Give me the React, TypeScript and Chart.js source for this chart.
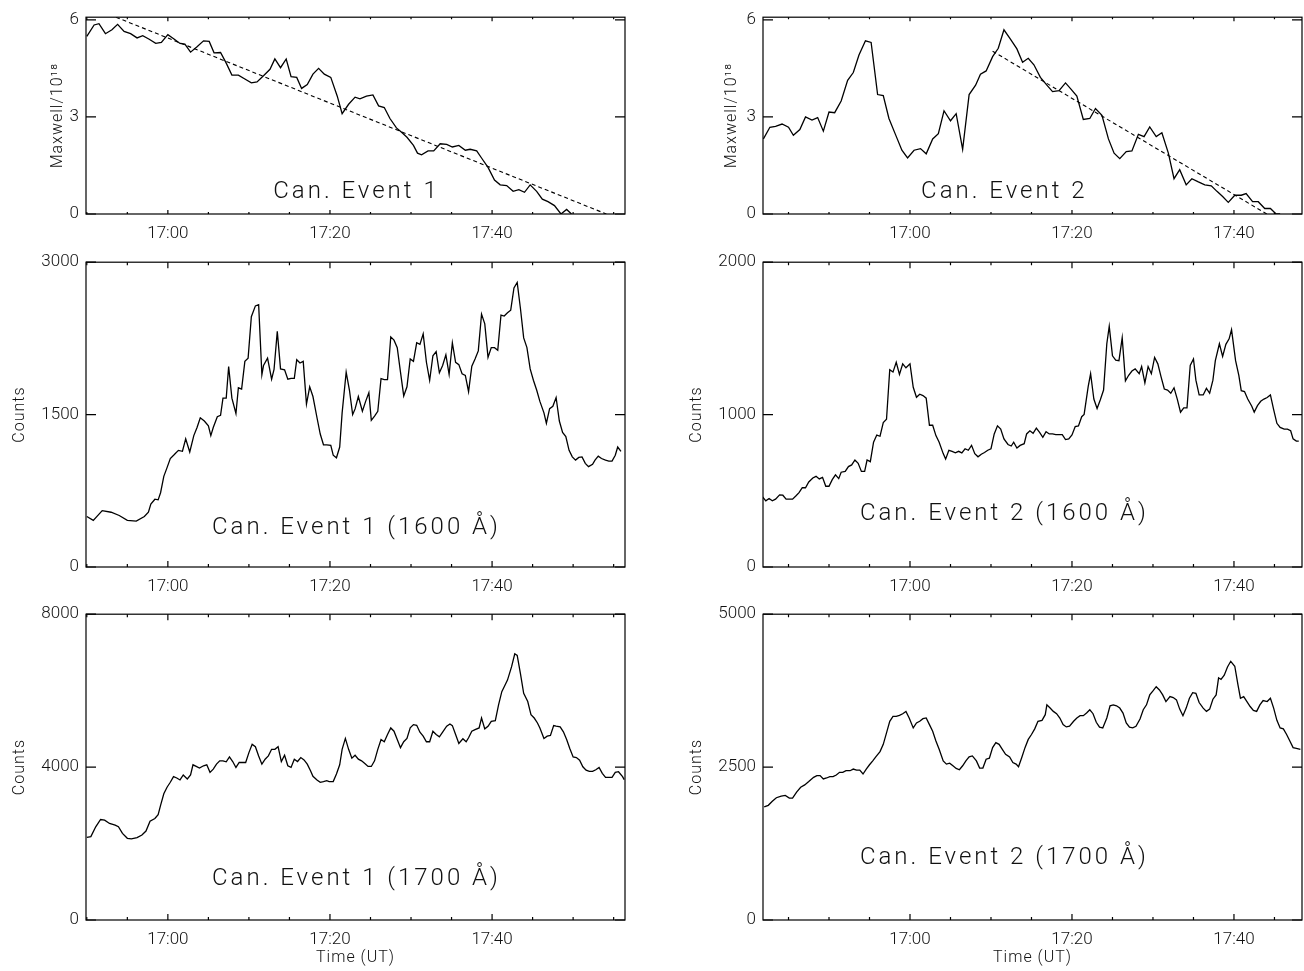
import React, { useEffect, useRef } from 'react';
import { Chart, registerables } from 'chart.js';

Chart.register(...registerables);

// ---------- DATA (time in minutes relative to 17:00 UT) ----------
const X_LABEL_VALUES = [0, 20, 40];
const X_LABELS = ['17:00', '17:20', '17:40'];
const LEFT_X_TICKS = [-10, -5, 0, 5, 10, 15, 20, 25, 30, 35, 40, 45, 50, 55];
const RIGHT_X_TICKS = [-15, -10, -5, 0, 5, 10, 15, 20, 25, 30, 35, 40, 45];

// Event 1 magnetic flux (Maxwell / 1e18)
const P1_TIME = [-10.0,-9.1,-8.5,-7.7,-6.9,-6.2,-5.4,-4.6,-3.8,-3.1,-2.3,-1.5,-0.8,0.0,0.8,1.5,2.1,2.8,3.6,4.4,5.1,5.7,6.5,7.2,7.9,8.7,9.5,10.3,11.0,11.8,12.6,13.2,13.9,14.6,15.2,15.9,16.5,17.2,17.9,18.6,19.3,20.1,20.9,21.5,22.3,23.1,23.7,24.5,25.3,26.0,26.7,27.4,28.2,28.8,29.5,30.3,30.8,31.3,32.1,32.8,33.6,34.4,35.1,35.9,36.7,37.3,38.1,38.7,39.5,40.3,41.0,41.8,42.6,43.3,44.0,44.7,45.5,46.2,46.9,47.7,48.5,49.2,49.8];
const P1_FLUX = [5.49,5.84,5.88,5.57,5.69,5.86,5.64,5.57,5.44,5.51,5.40,5.27,5.30,5.54,5.40,5.27,5.25,5.00,5.17,5.35,5.33,4.98,4.99,4.66,4.29,4.29,4.17,4.05,4.08,4.27,4.47,4.79,4.52,4.79,4.24,4.22,3.88,4.00,4.32,4.50,4.32,4.22,3.64,3.10,3.39,3.61,3.56,3.64,3.68,3.34,3.29,2.95,2.66,2.53,2.37,2.12,1.88,1.83,1.95,1.95,2.17,2.15,2.07,2.12,1.97,2.00,1.95,1.73,1.44,1.05,0.90,0.88,0.70,0.75,0.67,0.90,0.70,0.46,0.38,0.26,0.0,0.14,0.0];
const FIT1_TIME = [-6.4, 54.1];
const FIT1_FLUX = [6.08, 0];

// Event 2 magnetic flux (Maxwell / 1e18)
const P2_TIME = [-18.1,-17.3,-16.6,-15.8,-15.0,-14.4,-13.6,-12.9,-12.1,-11.4,-10.7,-10.0,-9.3,-8.5,-7.7,-7.0,-6.3,-5.5,-4.8,-4.0,-3.3,-2.6,-1.8,-1.0,-0.3,0.5,1.3,2.0,2.8,3.5,4.2,5.0,5.7,6.5,7.3,8.1,8.7,9.4,10.2,10.9,11.6,12.4,13.2,13.9,14.6,15.3,16.1,16.9,17.6,18.4,19.2,19.9,20.6,21.4,22.2,22.9,23.7,24.5,25.2,25.9,26.7,27.4,28.2,28.9,29.6,30.4,31.1,31.9,32.6,33.3,34.1,34.8,35.6,36.4,37.2,37.9,38.6,39.3,40.1,40.9,41.5,42.3,43.0,43.8,44.5,45.2,45.7];
const P2_FLUX = [2.32,2.68,2.71,2.78,2.68,2.43,2.61,3.00,2.90,2.98,2.56,3.15,3.13,3.49,4.13,4.37,4.91,5.35,5.30,3.69,3.66,2.95,2.46,1.97,1.73,1.97,2.02,1.86,2.32,2.48,3.19,2.88,3.10,2.00,3.69,3.98,4.32,4.42,4.86,5.12,5.69,5.40,5.10,4.69,4.81,4.61,4.22,3.98,3.78,3.81,4.05,3.85,3.64,2.92,2.95,3.26,3.05,2.32,1.88,1.71,1.93,1.95,2.46,2.39,2.69,2.39,2.51,1.88,1.09,1.37,0.90,1.09,0.99,0.90,0.87,0.70,0.54,0.36,0.58,0.58,0.63,0.38,0.38,0.17,0.17,0.0,0.0];
const FIT2_TIME = [10.2, 44.05];
const FIT2_FLUX = [5.03, 0];

// Event 1, 1600 A counts
const P3_TIME = [-10.0,-9.2,-8.1,-7.0,-6.0,-5.0,-3.9,-2.9,-2.4,-2.1,-1.6,-1.2,-0.9,-0.5,-0.1,0.3,0.8,1.3,1.8,2.2,2.7,3.2,3.6,4.0,4.5,5.0,5.3,5.6,6.1,6.5,6.8,7.2,7.5,7.9,8.4,8.7,9.1,9.5,9.9,10.3,10.8,11.2,11.6,11.8,12.3,12.8,13.1,13.5,13.9,14.4,14.8,15.2,15.6,15.9,16.3,16.7,17.1,17.5,17.9,18.4,18.8,19.2,19.6,20.1,20.4,20.8,21.2,21.5,22.0,22.4,22.8,23.1,23.5,24.0,24.4,24.8,25.1,25.5,25.9,26.3,26.7,27.1,27.5,27.9,28.3,28.7,29.1,29.5,29.9,30.3,30.7,31.1,31.5,31.9,32.3,32.7,33.1,33.5,33.9,34.3,34.7,35.1,35.5,35.9,36.3,36.7,37.1,37.5,37.9,38.3,38.7,39.1,39.5,39.9,40.3,40.7,41.1,41.5,41.9,42.3,42.7,43.1,43.5,43.9,44.3,44.7,45.1,45.5,45.9,46.4,46.7,47.1,47.5,47.9,48.3,48.7,49.1,49.5,49.9,50.3,50.7,51.1,51.5,51.9,52.4,52.7,53.1,53.5,54.0,54.4,54.8,55.2,55.5,55.9];
const P3_COUNTS = [497,459,555,539,507,459,452,497,539,619,667,661,731,892,978,1068,1107,1148,1139,1261,1132,1293,1373,1469,1437,1389,1293,1373,1479,1492,1662,1662,1973,1662,1511,1764,1751,2024,2056,2464,2570,2582,1893,1983,2056,1848,1944,2319,1950,1941,1848,1857,1857,2040,2008,2024,1604,1774,1678,1469,1309,1203,1203,1197,1100,1075,1181,1517,1918,1742,1501,1556,1678,1533,1630,1716,1444,1485,1533,1854,1845,1845,2265,2233,2159,1918,1684,1774,2047,2024,2207,2191,2294,2015,1838,2079,2120,1912,1983,2088,1896,2207,2015,1992,1902,1886,1726,1976,2047,2127,2489,2393,2063,2159,2159,2133,2480,2470,2502,2528,2746,2801,2544,2255,2159,1950,1838,1742,1630,1517,1415,1559,1582,1668,1437,1325,1283,1148,1084,1052,1078,1084,1020,988,1011,1052,1091,1068,1052,1043,1043,1100,1181,1139];

// Event 2, 1600 A counts
const P4_TIME = [-18.2,-17.8,-17.4,-17.0,-16.6,-16.1,-15.7,-15.3,-14.9,-14.5,-14.1,-13.7,-13.3,-12.9,-12.5,-12.0,-11.6,-11.2,-10.8,-10.4,-10.0,-9.6,-9.2,-8.8,-8.5,-8.0,-7.6,-7.2,-6.8,-6.4,-6.0,-5.6,-5.3,-4.9,-4.5,-4.1,-3.7,-3.3,-2.9,-2.5,-2.1,-1.7,-1.3,-0.9,-0.5,0.0,0.4,0.8,1.2,1.6,2.0,2.4,2.8,3.2,3.6,4.1,4.4,4.8,5.2,5.6,6.0,6.4,6.8,7.2,7.6,8.0,8.4,8.8,9.2,9.6,10.0,10.4,10.8,11.2,11.6,12.1,12.5,12.8,13.2,13.6,14.1,14.4,14.8,15.2,15.6,16.0,16.4,16.8,17.2,17.6,18.0,18.4,18.8,19.2,19.6,20.0,20.4,20.8,21.2,21.5,22.0,22.3,22.7,23.1,23.5,23.9,24.3,24.6,25.0,25.4,25.8,26.2,26.6,27.0,27.4,27.8,28.3,28.6,29.0,29.4,29.8,30.2,30.6,31.0,31.4,31.8,32.2,32.6,33.0,33.4,33.8,34.2,34.6,35.0,35.3,35.7,36.2,36.6,37.0,37.4,37.7,38.2,38.6,39.0,39.4,39.7,40.2,40.6,40.9,41.3,41.7,42.2,42.5,42.9,43.3,43.7,44.1,44.5,44.9,45.3,45.7,46.2,46.6,47.0,47.3,47.7,48.0];
const P4_COUNTS = [460,434,449,434,445,473,471,445,445,445,466,488,520,520,558,584,595,578,588,530,530,573,605,580,622,627,659,670,702,680,627,627,702,691,819,866,858,948,969,1294,1279,1343,1264,1333,1307,1333,1179,1114,1134,1125,1108,930,930,862,819,744,708,766,759,749,759,749,776,766,798,744,723,740,751,766,776,873,926,905,841,804,794,819,781,798,809,873,894,877,911,883,851,888,873,873,868,868,868,836,841,866,922,926,986,1001,1183,1268,1102,1040,1097,1161,1465,1579,1386,1358,1354,1504,1221,1258,1286,1300,1268,1315,1208,1315,1268,1375,1333,1247,1168,1161,1140,1176,1102,1016,1044,1044,1322,1365,1226,1129,1129,1172,1140,1226,1354,1465,1382,1461,1497,1557,1354,1258,1157,1151,1102,1055,1016,1059,1087,1102,1112,1129,1033,943,916,905,905,894,841,826,826];

// Event 1, 1700 A counts
const P5_TIME = [-10.0,-9.5,-8.9,-8.3,-7.8,-7.2,-6.5,-6.1,-5.6,-5.0,-4.5,-3.8,-3.2,-2.7,-2.2,-1.6,-1.2,-0.9,-0.5,-0.1,0.3,0.7,1.1,1.5,1.9,2.4,2.8,3.1,3.5,3.9,4.4,4.8,5.2,5.6,6.0,6.4,6.8,7.2,7.6,8.0,8.4,8.8,9.2,9.6,10.0,10.4,10.8,11.2,11.6,12.0,12.4,12.8,13.2,13.6,14.0,14.4,14.8,15.2,15.6,16.0,16.4,16.8,17.2,17.6,17.9,18.4,18.8,19.2,19.6,19.9,20.4,20.8,21.2,21.5,21.9,22.3,22.7,23.1,23.5,23.9,24.3,24.7,25.1,25.5,25.9,26.3,26.7,27.1,27.5,27.9,28.3,28.7,29.1,29.5,29.9,30.3,30.7,31.1,31.5,31.9,32.3,32.7,33.1,33.5,33.9,34.4,34.8,35.1,35.5,35.9,36.4,36.8,37.1,37.5,37.9,38.4,38.7,39.1,39.5,39.9,40.4,40.8,41.2,41.5,41.9,42.4,42.8,43.1,43.5,43.9,44.4,44.8,45.2,45.6,45.9,46.4,46.8,47.2,47.6,47.9,48.4,48.8,49.2,49.6,50.0,50.4,50.8,51.2,51.6,52.0,52.4,52.8,53.2,53.6,54.0,54.4,54.8,55.2,55.6,56.1,56.3];
const P5_COUNTS = [2164,2181,2439,2629,2612,2526,2483,2439,2267,2138,2121,2155,2224,2327,2586,2655,2758,3000,3301,3474,3603,3750,3715,3664,3793,3689,3793,4060,4017,3974,4034,4060,3862,3948,4077,4164,4164,4138,4267,4146,3991,4120,4120,4120,4379,4595,4534,4293,4077,4207,4293,4465,4465,4534,4146,4310,4034,3991,4207,4146,4250,4189,4077,3905,3758,3664,3603,3620,3646,3620,3620,3819,4060,4465,4750,4465,4232,4310,4207,4164,4095,4017,4017,4164,4465,4724,4663,4853,5025,4939,4724,4508,4663,4750,5025,5112,5094,4913,4810,4663,4663,4939,4853,4793,4913,5069,5129,5086,4853,4620,4741,4663,4767,4939,4982,5025,5284,5000,5069,5198,5215,5629,5974,6103,6276,6620,6965,6922,6448,5931,5715,5370,5284,5155,5025,4750,4810,4827,5086,5069,5051,4922,4724,4482,4267,4250,4181,4008,3922,3888,3888,3931,3991,3836,3732,3732,3732,3862,3879,3750,3672];

// Event 2, 1700 A counts
const P6_TIME = [-18.0,-17.5,-17.0,-16.5,-15.9,-15.4,-14.9,-14.5,-14.0,-13.5,-13.0,-12.5,-11.9,-11.5,-11.1,-10.7,-10.3,-9.9,-9.5,-9.1,-8.7,-8.3,-7.9,-7.4,-7.0,-6.6,-6.2,-5.8,-5.4,-5.0,-4.6,-4.2,-3.7,-3.3,-2.9,-2.5,-2.1,-1.7,-1.3,-0.9,-0.5,-0.1,0.4,0.8,1.2,1.6,2.0,2.4,2.8,3.2,3.6,4.1,4.5,4.9,5.3,5.7,6.1,6.5,6.9,7.3,7.7,8.2,8.6,9.0,9.4,9.8,10.2,10.6,11.0,11.4,11.8,12.3,12.7,13.1,13.4,13.8,14.2,14.6,15.0,15.4,15.8,16.3,16.7,16.9,17.3,17.7,18.1,18.5,18.9,19.3,19.7,20.2,20.6,21.0,21.4,21.8,22.2,22.6,23.0,23.4,23.8,24.3,24.7,25.1,25.5,25.9,26.3,26.7,27.1,27.5,27.9,28.4,28.8,29.2,29.6,30.0,30.4,30.8,31.2,31.6,32.1,32.5,32.9,33.3,33.7,34.1,34.5,34.9,35.3,35.7,36.2,36.6,37.0,37.4,37.8,38.1,38.4,38.8,39.2,39.6,40.1,40.5,40.8,41.2,41.6,42.0,42.4,42.8,43.2,43.6,44.1,44.5,44.9,45.3,45.7,46.1,46.5,46.9,47.3,47.7,48.2];
const P6_COUNTS = [1848,1875,1940,1999,2026,2037,1994,1994,2091,2171,2209,2263,2333,2360,2360,2306,2322,2344,2344,2371,2414,2414,2441,2441,2468,2452,2452,2387,2468,2538,2602,2672,2753,2872,3060,3249,3330,3330,3346,3373,3411,3303,3141,3222,3249,3292,3303,3195,3087,2926,2791,2602,2549,2565,2522,2479,2457,2522,2602,2667,2683,2602,2484,2484,2629,2646,2818,2899,2872,2791,2710,2667,2575,2549,2505,2656,2818,2953,3033,3125,3249,3265,3357,3518,3465,3411,3373,3303,3195,3157,3168,3249,3303,3341,3341,3384,3438,3373,3233,3152,3141,3303,3502,3518,3502,3465,3384,3222,3152,3141,3168,3287,3438,3518,3680,3745,3815,3761,3680,3572,3653,3637,3599,3448,3341,3465,3626,3718,3707,3556,3465,3411,3448,3610,3680,3960,3933,4003,4138,4230,4149,3842,3626,3653,3572,3491,3427,3411,3518,3588,3572,3626,3465,3265,3141,3125,3033,2926,2818,2807,2791];

// ---------- LAYOUT ----------
const FONT = 'Roboto';
const TEXT = '#111';

type Cfg = {
  key: string;
  left: number; top: number; w: number; h: number;
  aL: number; aT: number; aR: number; aB: number;
  xMin: number; xMax: number; xTicks: number[];
  yMin: number; yMax: number; yTicks: number[];
  time: number[]; vals: number[];
  fitT?: number[]; fitV?: number[];
  label: string; fx: number; fy: number;
  yTitle: string; yTitleDx: number;
  xTitle?: string;
  majorX: number;
};

const COL_L = { left: 0, w: 650, aL: 86, aR: 625 };
const COL_R = { left: 650, w: 654, aL: 113, aR: 652 };
const ROW1 = { top: 0, h: 245, aT: 7, aB: 214 };
const ROW2 = { top: 245, h: 352, aT: 12, aB: 322 };
const ROW3 = { top: 597, h: 374, aT: 12, aB: 323 };

const LEFT_RANGE = { xMin: -10.1, xMax: 56.4, xTicks: LEFT_X_TICKS };
const RIGHT_RANGE = { xMin: -18.15, xMax: 48.4, xTicks: RIGHT_X_TICKS };

const PANELS: Cfg[] = [
  { key: 'p1', ...COL_L, ...ROW1, ...LEFT_RANGE, yMin: 0, yMax: 6.08, yTicks: [0, 3, 6],
    time: P1_TIME, vals: P1_FLUX, fitT: FIT1_TIME, fitV: FIT1_FLUX,
    label: 'Can. Event 1', fx: 0.499, fy: 0.89, yTitle: 'Maxwell/10¹⁸', yTitleDx: -28, majorX: 4 },
  { key: 'p2', ...COL_R, ...ROW1, ...RIGHT_RANGE, yMin: 0, yMax: 6.08, yTicks: [0, 3, 6],
    time: P2_TIME, vals: P2_FLUX, fitT: FIT2_TIME, fitV: FIT2_FLUX,
    label: 'Can. Event 2', fx: 0.445, fy: 0.89, yTitle: 'Maxwell/10¹⁸', yTitleDx: -31, majorX: 4 },
  { key: 'p3', ...COL_L, ...ROW2, ...LEFT_RANGE, yMin: 0, yMax: 3000, yTicks: [0, 1500, 3000],
    time: P3_TIME, vals: P3_COUNTS,
    label: 'Can. Event 1 (1600 Å)', fx: 0.499, fy: 0.871, yTitle: 'Counts', yTitleDx: -66, majorX: 6 },
  { key: 'p4', ...COL_R, ...ROW2, ...RIGHT_RANGE, yMin: 0, yMax: 2000, yTicks: [0, 1000, 2000],
    time: P4_TIME, vals: P4_COUNTS,
    label: 'Can. Event 2 (1600 Å)', fx: 0.445, fy: 0.826, yTitle: 'Counts', yTitleDx: -66, majorX: 6 },
  { key: 'p5', ...COL_L, ...ROW3, ...LEFT_RANGE, yMin: 0, yMax: 8000, yTicks: [0, 4000, 8000],
    time: P5_TIME, vals: P5_COUNTS,
    label: 'Can. Event 1 (1700 Å)', fx: 0.499, fy: 0.865, yTitle: 'Counts', yTitleDx: -66, xTitle: 'Time (UT)', majorX: 6 },
  { key: 'p6', ...COL_R, ...ROW3, ...RIGHT_RANGE, yMin: 0, yMax: 5000, yTicks: [0, 2500, 5000],
    time: P6_TIME, vals: P6_COUNTS,
    label: 'Can. Event 2 (1700 Å)', fx: 0.445, fy: 0.797, yTitle: 'Counts', yTitleDx: -66, xTitle: 'Time (UT)', majorX: 6 },
];

function decorPlugin(cfg: Cfg) {
  return {
    id: 'decor_' + cfg.key,
    afterDatasetsDraw(chart: any) {
      const { ctx, chartArea: a, scales } = chart;
      const xs = scales.x;
      const ys = scales.y;
      ctx.save();
      ctx.strokeStyle = '#000';
      ctx.lineWidth = 1.2;
      ctx.strokeRect(a.left, a.top, a.right - a.left, a.bottom - a.top);
      ctx.beginPath();
      for (const v of cfg.xTicks) {
        const px = xs.getPixelForValue(v);
        const len = X_LABEL_VALUES.includes(v) ? cfg.majorX : cfg.majorX / 2;
        ctx.moveTo(px, a.bottom);
        ctx.lineTo(px, a.bottom - len);
        ctx.moveTo(px, a.top);
        ctx.lineTo(px, a.top + len);
      }
      for (const v of cfg.yTicks) {
        const py = ys.getPixelForValue(v);
        ctx.moveTo(a.left, py);
        ctx.lineTo(a.left + 10, py);
        ctx.moveTo(a.right, py);
        ctx.lineTo(a.right - 10, py);
      }
      ctx.stroke();

      ctx.fillStyle = TEXT;
      // annotation
      ctx.font = `300 24px ${FONT}`;
      (ctx as any).letterSpacing = '3px';
      ctx.textAlign = 'center';
      ctx.textBaseline = 'middle';
      ctx.fillText(cfg.label, a.left + cfg.fx * (a.right - a.left) + 1.5, a.top + cfg.fy * (a.bottom - a.top));

      // y title
      ctx.font = `300 16px ${FONT}`;
      (ctx as any).letterSpacing = '1px';
      ctx.save();
      ctx.translate(a.left + cfg.yTitleDx, (a.top + a.bottom) / 2);
      ctx.rotate(-Math.PI / 2);
      ctx.fillText(cfg.yTitle, 0, 0);
      ctx.restore();

      if (cfg.xTitle) {
        ctx.fillText(cfg.xTitle, (a.left + a.right) / 2, a.bottom + 38);
      }
      ctx.restore();
    },
  };
}

function Panel({ cfg }: { cfg: Cfg }) {
  const ref = useRef<HTMLCanvasElement>(null);
  useEffect(() => {
    const datasets: any[] = [
      {
        data: cfg.time.map((t, i) => ({ x: t, y: cfg.vals[i] })),
        borderColor: '#000',
        borderWidth: 1.3,
        pointRadius: 0,
        tension: 0,
        fill: false,
      },
    ];
    if (cfg.fitT && cfg.fitV) {
      datasets.push({
        data: cfg.fitT.map((t, i) => ({ x: t, y: cfg.fitV![i] })),
        borderColor: '#000',
        borderWidth: 1.1,
        borderDash: [4, 3],
        pointRadius: 0,
        tension: 0,
        fill: false,
      });
    }
    const tickFont = { family: FONT, size: 17, weight: '300' as any };
    const chart = new Chart(ref.current!, {
      type: 'line',
      data: { datasets },
      options: {
        animation: false,
        responsive: false,
        events: [],
        layout: { padding: { top: cfg.aT, right: cfg.w - cfg.aR, left: 0, bottom: 0 } },
        plugins: { legend: { display: false }, tooltip: { enabled: false } },
        scales: {
          x: {
            type: 'linear',
            min: cfg.xMin,
            max: cfg.xMax,
            grid: { display: false, drawTicks: false },
            border: { display: false },
            afterBuildTicks: (s: any) => { s.ticks = cfg.xTicks.map((v) => ({ value: v })); },
            afterFit: (s: any) => { s.height = cfg.h - cfg.aB; },
            ticks: {
              autoSkip: false,
              maxRotation: 0,
              padding: 10,
              color: TEXT,
              font: tickFont,
              callback: (v: any) => {
                const idx = X_LABEL_VALUES.indexOf(Number(v));
                return idx >= 0 ? X_LABELS[idx] : '';
              },
            },
          },
          y: {
            type: 'linear',
            min: cfg.yMin,
            max: cfg.yMax,
            grid: { display: false, drawTicks: false },
            border: { display: false },
            afterBuildTicks: (s: any) => { s.ticks = cfg.yTicks.map((v) => ({ value: v })); },
            afterFit: (s: any) => { s.width = cfg.aL; },
            ticks: {
              autoSkip: false,
              padding: 7,
              color: TEXT,
              font: tickFont,
              callback: (v: any) => String(v),
            },
          },
        },
      },
      plugins: [decorPlugin(cfg)],
    });
    return () => chart.destroy();
  }, [cfg]);
  return (
    <canvas
      ref={ref}
      width={cfg.w}
      height={cfg.h}
      style={{ position: 'absolute', left: cfg.left, top: cfg.top, width: cfg.w, height: cfg.h }}
    />
  );
}

export default function App() {
  return (
    <div style={{ position: 'absolute', left: 0, top: 0, width: 1304, height: 971, background: '#fff' }}>
      {PANELS.map((p) => (
        <Panel key={p.key} cfg={p} />
      ))}
    </div>
  );
}
